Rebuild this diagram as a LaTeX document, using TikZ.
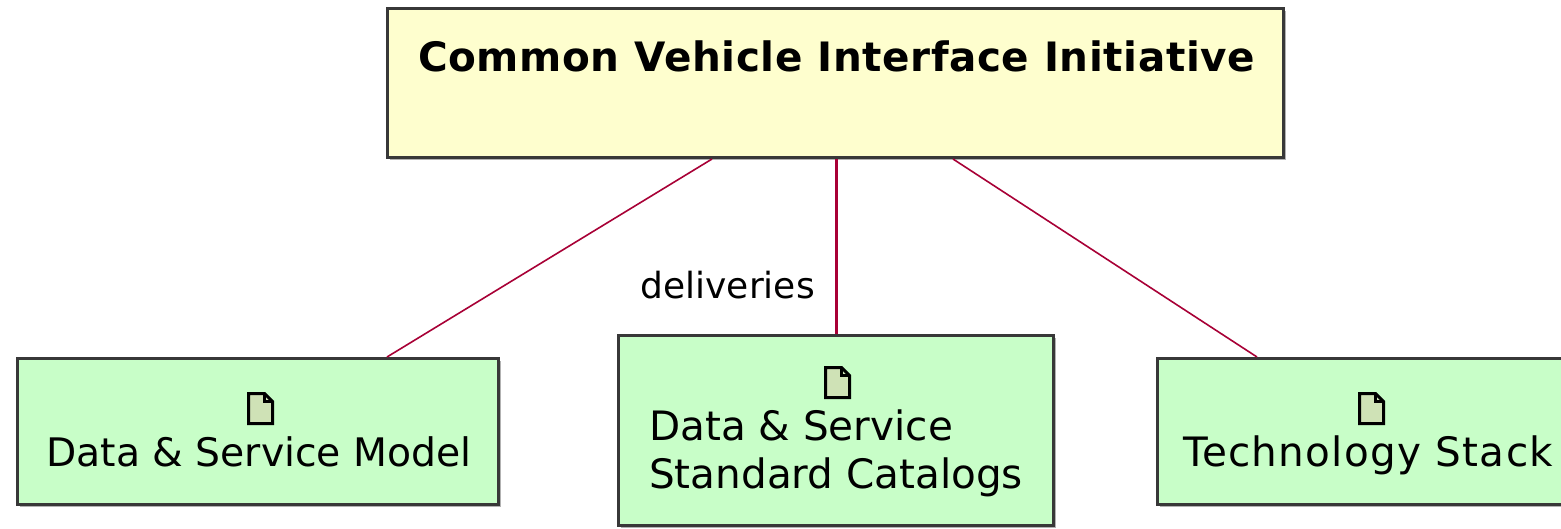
\documentclass[tikz,border=0pt]{standalone}
\usepackage{fontspec}
\setmainfont{DejaVu Sans}
\usetikzlibrary{shadows}
\definecolor{topfill}{HTML}{FEFECE}
\definecolor{artfill}{HTML}{C8FEC8}
\definecolor{iconfill}{HTML}{CFE2B6}
\definecolor{bordercol}{HTML}{383838}
\definecolor{linkcol}{HTML}{A80036}
\tikzset{
  boxshadow/.style={drop shadow={shadow xshift=2pt, shadow yshift=-2pt, fill=black!30, opacity=1}},
  topbox/.style={draw=bordercol, line width=3pt, fill=topfill, boxshadow, inner sep=0pt},
  artbox/.style={draw=bordercol, line width=3pt, fill=artfill, boxshadow, inner sep=0pt},
  titletext/.style={inner sep=0pt, font=\fontsize{40.5}{48}\selectfont\bfseries\addfontfeature{LetterSpace=1.5}},
  arttext/.style={inner sep=0pt, font=\fontsize{40.5}{48}\selectfont},
  labeltext/.style={inner sep=0pt, font=\fontsize{36}{42}\selectfont},
  link/.style={draw=linkcol, line width=1.6pt},
  mainlink/.style={draw=linkcol, line width=3pt},
  iconstyle/.style={draw=black, fill=iconfill, line width=3pt, line join=miter}
}
\newcommand{\docicon}[2]{%
  \draw[iconstyle] (#1-12,#2-15) -- (#1+4,#2-15) -- (#1+12,#2-7) -- (#1+12,#2+15) -- (#1-12,#2+15) -- cycle;
  \draw[iconstyle, fill=none] (#1+4,#2-15) -- (#1+4,#2-7) -- (#1+12,#2-7);}
\begin{document}
\begin{tikzpicture}[x=1pt, y=-1pt]
\useasboundingbox (0,0) rectangle (1561,528);
\clip (0,0) rectangle (1561,528);
\fill[white] (0,0) rectangle (1561,528);

% boxes
\node[topbox, minimum width=896pt, minimum height=149pt] (cvi) at (835.5,83) {};
\node[artbox, minimum width=481pt, minimum height=146pt] (dsm) at (258,431.5) {};
\node[artbox, minimum width=435pt, minimum height=190pt] (cat) at (836,430.5) {};
\node[artbox, minimum width=421pt, minimum height=146pt] (tech) at (1368,431.5) {};

% texts
\node[titletext, anchor=base] (title) at (836.5,71) {Common Vehicle Interface Initiative};
\node[arttext, font=\fontsize{39.3}{48}\selectfont, anchor=base] (dsmtext) at (259,466) {Data \& Service Model};
\node[arttext, anchor=base west] (cattext1) at (649,440) {Data \& Service};
\node[arttext, anchor=base west] (cattext2) at (649,488) {Standard Catalogs};
\node[arttext, font=\fontsize{40.5}{48}\selectfont\addfontfeature{LetterSpace=3.2}, anchor=base] (techtext) at (1368,466) {Technology Stack};

% icons
\docicon{260.5}{408.5}
\docicon{837.5}{382.5}
\docicon{1371.5}{408.5}

% connectors
\draw[link] ([xshift=-123.5pt]cvi.south) -- ([xshift=129pt]dsm.north);
\draw[mainlink] ([xshift=0.5pt]cvi.south) -- (cat.north);
\draw[link] ([xshift=117.5pt]cvi.south) -- ([xshift=-111pt]tech.north);

\node[labeltext, anchor=base east] (deliv) at (815,298) {deliveries};
\end{tikzpicture}
\end{document}
